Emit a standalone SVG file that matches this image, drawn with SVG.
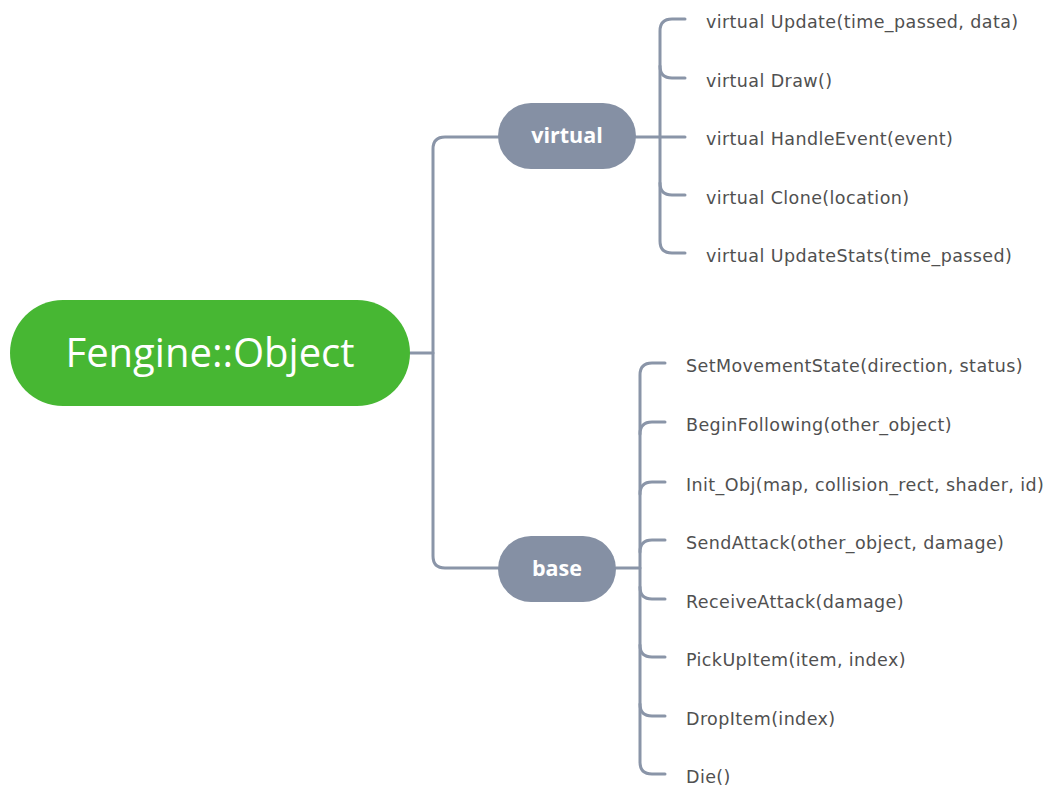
<svg xmlns="http://www.w3.org/2000/svg" width="1049" height="786" viewBox="0 0 1049 786">
  <style>
    .link { fill: none; stroke: #8a95a8; stroke-width: 3; stroke-linecap: round; stroke-linejoin: round; }
    .topic { fill: #8590a4; }
    .topic-label { font-family: "Open Sans", Lato, sans-serif; font-weight: bold; font-size: 21.5px; fill: #ffffff; text-anchor: middle; }
    .leaf { font-family: "DejaVu Sans", "Open Sans", sans-serif; font-size: 17.5px; letter-spacing: 0.4px; fill: #505050; }
  </style>
  <rect width="1049" height="786" fill="#ffffff"/>

  <g id="connectors">
    <!-- root to main topics -->
    <path class="link" d="M410 353 H433"/>
    <path class="link" d="M498 137 H445 Q433 137 433 149 V556 Q433 568 445 568 H498"/>
    <!-- virtual branch -->
    <path class="link" d="M636 137 H660"/>
    <path class="link" d="M685 19 H672 Q660 19 660 31 V241 Q660 253 672 253 H685"/>
    <path class="link" d="M660 66 Q660 78 672 78 H685"/>
    <path class="link" d="M660 137 H685"/>
    <path class="link" d="M660 183 Q660 195 672 195 H685"/>
    <!-- base branch -->
    <path class="link" d="M616 568 H640"/>
    <path class="link" d="M665 363 H652 Q640 363 640 375 V762 Q640 774 652 774 H665"/>
    <path class="link" d="M640 434 Q640 422 652 422 H665"/>
    <path class="link" d="M640 494 Q640 482 652 482 H665"/>
    <path class="link" d="M640 552 Q640 540 652 540 H665"/>
    <path class="link" d="M640 587 Q640 599 652 599 H665"/>
    <path class="link" d="M640 645 Q640 657 652 657 H665"/>
    <path class="link" d="M640 704 Q640 716 652 716 H665"/>
  </g>

  <g id="root">
    <rect x="10" y="300" width="400" height="106" rx="53" fill="#47b733"/>
    <text x="210" y="367" font-family="'Open Sans', Lato, sans-serif" font-size="40" fill="#ffffff" text-anchor="middle">Fengine::Object</text>
  </g>

  <g id="topic-virtual">
    <rect class="topic" x="498" y="103" width="138" height="66" rx="33"/>
    <text class="topic-label" x="567" y="143">virtual</text>
  </g>
  <g id="topic-base">
    <rect class="topic" x="498" y="536" width="118" height="66" rx="33"/>
    <text class="topic-label" x="557" y="576">base</text>
  </g>

  <g id="virtual-items">
    <text class="leaf" x="706" y="28">virtual Update(time_passed, data)</text>
    <text class="leaf" x="706" y="87">virtual Draw()</text>
    <text class="leaf" x="706" y="145">virtual HandleEvent(event)</text>
    <text class="leaf" x="706" y="204">virtual Clone(location)</text>
    <text class="leaf" x="706" y="262">virtual UpdateStats(time_passed)</text>
  </g>

  <g id="base-items">
    <text class="leaf" x="686" y="372">SetMovementState(direction, status)</text>
    <text class="leaf" x="686" y="431">BeginFollowing(other_object)</text>
    <text class="leaf" x="686" y="491">Init_Obj(map, collision_rect, shader, id)</text>
    <text class="leaf" x="686" y="549">SendAttack(other_object, damage)</text>
    <text class="leaf" x="686" y="608">ReceiveAttack(damage)</text>
    <text class="leaf" x="686" y="666">PickUpItem(item, index)</text>
    <text class="leaf" x="686" y="725">DropItem(index)</text>
    <text class="leaf" x="686" y="783">Die()</text>
  </g>
</svg>
